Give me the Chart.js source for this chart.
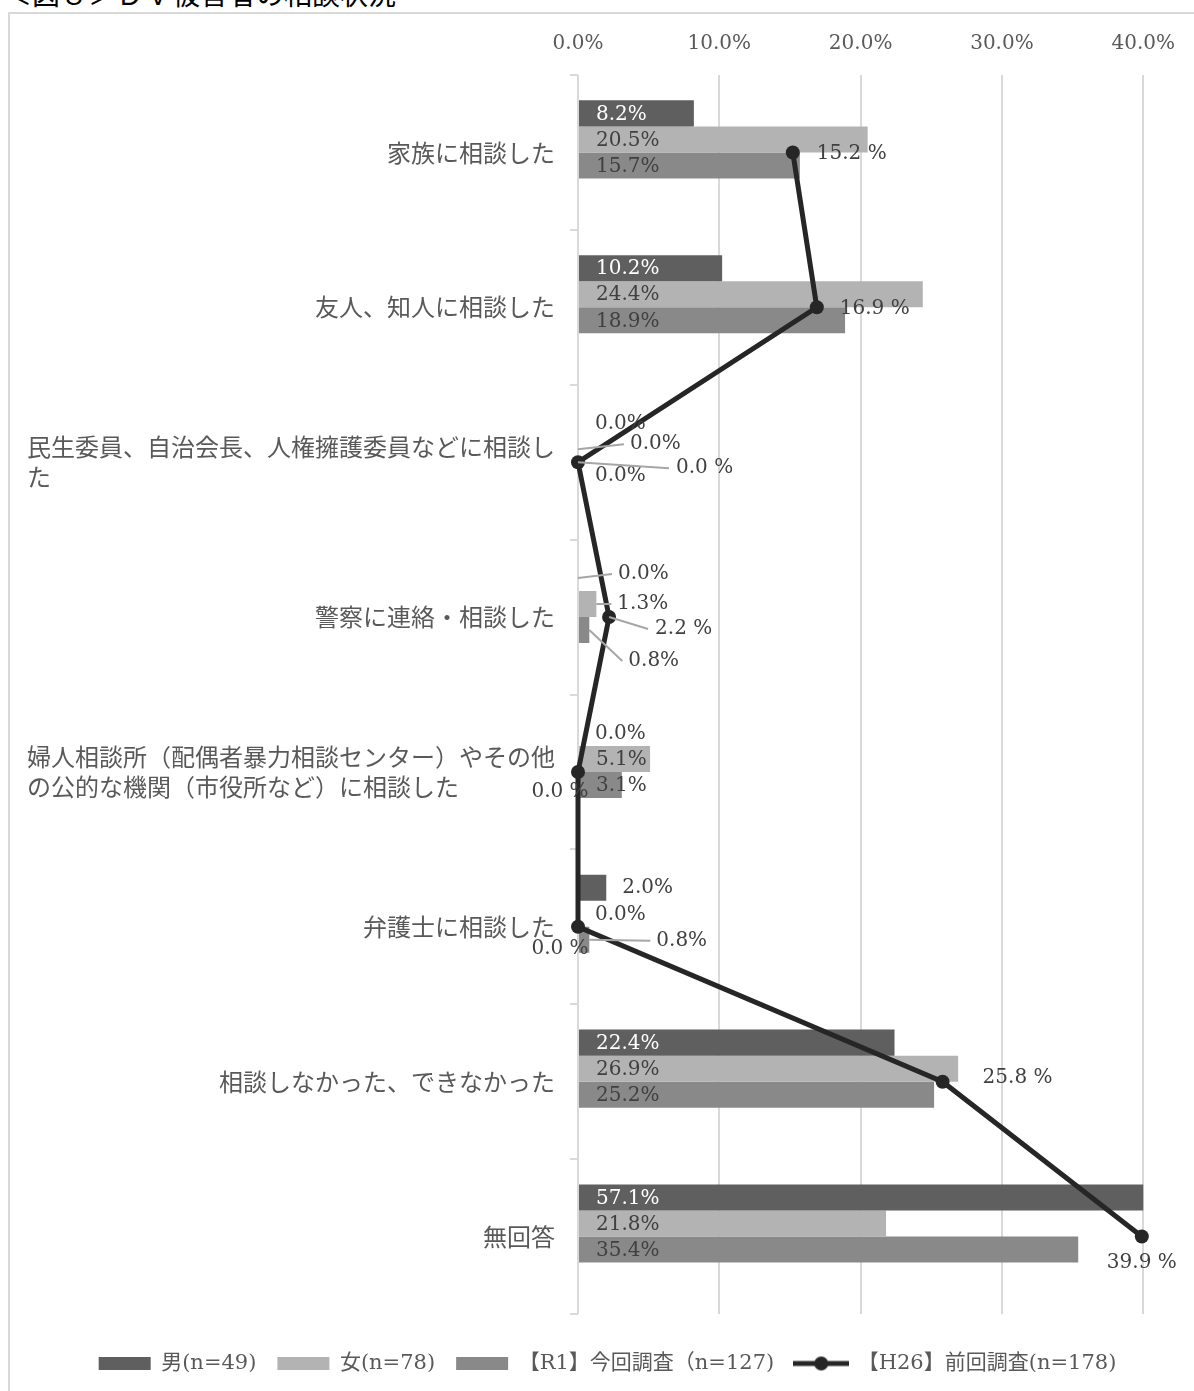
<!DOCTYPE html>
<html lang="ja">
<head>
<meta charset="utf-8">
<title>DV被害者の相談状況</title>
<script src="https://cdn.jsdelivr.net/npm/chart.js@4"></script>
<style>
  body { margin: 0; background: #fff; width: 1194px; height: 1391px; overflow: hidden; position: relative; }
  #title { position: absolute; left: 4px; top: -21px; font: 28px/28px "Noto Sans CJK JP"; color: #000; white-space: nowrap; }
  #frame { position: absolute; left: 8px; top: 12px; width: 1210px; height: 1420px; border: 2px solid #d9d9d9; }
  #box { position: absolute; left: 9px; top: 14px; width: 1185px; height: 1370px; }
</style>
</head>
<body>
<div id="title">＜図８＞ＤＶ被害者の相談状況</div>
<div id="frame"></div>
<div id="box"><canvas id="consultChart"></canvas></div>
<script>
const categories = [
    ['家族に相談した'],
    ['友人、知人に相談した'],
    ['民生委員、自治会長、人権擁護委員などに相談し', 'た'],
    ['警察に連絡・相談した'],
    ['婦人相談所（配偶者暴力相談センター）やその他', 'の公的な機関（市役所など）に相談した'],
    ['弁護士に相談した'],
    ['相談しなかった、できなかった'],
    ['無回答']
];
const male = [8.2, 10.2, 0.0, 0.0, 0.0, 2.0, 22.4, 57.1];
const female = [20.5, 24.4, 0.0, 1.3, 5.1, 0.0, 26.9, 21.8];
const r1Total = [15.7, 18.9, 0.0, 0.8, 3.1, 0.8, 25.2, 35.4];
const h26Total = [15.2, 16.9, 0.0, 2.2, 0.0, 0.0, 25.8, 39.9];
const seriesNames = ['男(n=49)', '女(n=78)', '【R1】今回調査（n=127)', '【H26】前回調査(n=178)'];
const xMin = 0, xMax = 40, xStep = 10;

const maleColor = '#5f5f5f';
const femaleColor = '#b3b3b3';
const totalColor = '#898989';
const lineColor = '#262626';
const gridColor = '#d9d9d9';
const numFont = '"DejaVu Serif", serif';
const jpFont = '"Noto Sans CJK JP", sans-serif';

// 値の小さい棒はラベルを棒の先から右にずらす（lead: 引き出し線あり）
const barLabelMoves = {
    '1-2': { dx: 52, dy: -5, lead: true },
    '0-3': { dx: 40, dy: -4, lead: true },
    '1-3': { dx: 21, dy: 0, lead: true },
    '2-3': { dx: 39, dy: 31, lead: true },
    '0-5': { dx: 16, dy: 0, lead: false },
    '2-5': { dx: 67, dy: 1, lead: true }
};
// 前回調査の折れ線ラベル位置（点からのずれ）
const lineLabelPos = [
    { dx: 24, dy: 1, align: 'left' },
    { dx: 23, dy: 1, align: 'left' },
    { dx: 98, dy: 6, align: 'left', lead: true },
    { dx: 46, dy: 12, align: 'left', lead: true },
    { dx: -18, dy: 20, align: 'center' },
    { dx: -18, dy: 22, align: 'center' },
    { dx: 40, dy: -4, align: 'left' },
    { dx: 0, dy: 26, align: 'center' }
];

// 凡例用：点つきの線
function lineMarker() {
    const c = document.createElement('canvas');
    c.width = 56; c.height = 16;
    const g = c.getContext('2d');
    g.strokeStyle = lineColor; g.lineWidth = 5;
    g.beginPath(); g.moveTo(0, 8); g.lineTo(56, 8); g.stroke();
    g.fillStyle = lineColor;
    g.beginPath(); g.arc(28, 8, 7, 0, Math.PI * 2); g.fill();
    return c;
}

const categoryLabels = {
    id: 'categoryLabels',
    afterDraw(chart) {
        const { ctx, scales: { x, y } } = chart;
        ctx.save();
        ctx.font = '24px ' + jpFont;
        ctx.fillStyle = '#595959';
        ctx.textBaseline = 'middle';
        ctx.textAlign = 'left';
        const right = x.left - 23;
        categories.forEach((lines, i) => {
            const cy = y.getPixelForValue(i);
            const w = Math.max(...lines.map(t => ctx.measureText(t).width));
            lines.forEach((t, k) => {
                ctx.fillText(t, right - w, cy + (k - (lines.length - 1) / 2) * 30);
            });
        });
        ctx.restore();
    }
};

const valueLabels = {
    id: 'valueLabels',
    afterDatasetsDraw(chart) {
        const ctx = chart.ctx;
        ctx.save();
        ctx.font = '20px ' + numFont;
        ctx.textBaseline = 'middle';
        [0, 1, 2].forEach(d => {
            const meta = chart.getDatasetMeta(d);
            const values = chart.data.datasets[d].data;
            meta.data.forEach((bar, i) => {
                const text = values[i].toFixed(1) + '%';
                const mv = barLabelMoves[d + '-' + i];
                ctx.textAlign = 'left';
                if (mv) {
                    const tx = bar.x + mv.dx, ty = bar.y + mv.dy;
                    if (mv.lead) {
                        ctx.strokeStyle = '#a6a6a6'; ctx.lineWidth = 2;
                        ctx.beginPath(); ctx.moveTo(bar.x, bar.y); ctx.lineTo(tx - 6, ty); ctx.stroke();
                    }
                    ctx.fillStyle = '#404040';
                    ctx.fillText(text, tx, ty);
                } else {
                    // 濃い棒の中に収まるときだけ白文字
                    const inside = bar.x - bar.base > 60;
                    ctx.fillStyle = d === 0 && inside ? '#ffffff' : '#404040';
                    ctx.fillText(text, bar.base + 17, bar.y + 1);
                }
            });
        });
        const lineMeta = chart.getDatasetMeta(4);
        lineMeta.data.forEach((pt, i) => {
            const p = lineLabelPos[i];
            const tx = pt.x + p.dx, ty = pt.y + p.dy;
            if (p.lead) {
                ctx.strokeStyle = '#a6a6a6'; ctx.lineWidth = 2;
                ctx.beginPath(); ctx.moveTo(pt.x, pt.y); ctx.lineTo(tx - 7, ty); ctx.stroke();
            }
            ctx.fillStyle = '#404040';
            ctx.textAlign = p.align;
            ctx.fillText(h26Total[i].toFixed(1) + ' %', tx, ty);
        });
        ctx.restore();
    }
};

new Chart(document.getElementById('consultChart'), {
    type: 'bar',
    data: {
        labels: categories.map(l => l.join('')),
        datasets: [
            { label: seriesNames[0], data: male, backgroundColor: maleColor, order: 1 },
            { label: seriesNames[1], data: female, backgroundColor: femaleColor, order: 1 },
            { label: seriesNames[2], data: r1Total, backgroundColor: totalColor, order: 1 },
            // 折れ線の分の空き枠
            { label: '', data: categories.map(() => null), backgroundColor: 'transparent', order: 1 },
            {
                type: 'line', label: seriesNames[3], data: h26Total, order: 0,
                borderColor: lineColor, borderWidth: 5, clip: false,
                pointRadius: 7, pointBackgroundColor: lineColor, pointBorderWidth: 0
            }
        ]
    },
    options: {
        indexAxis: 'y',
        responsive: true,
        maintainAspectRatio: false,
        animation: false,
        categoryPercentage: 0.673,
        barPercentage: 1.0,
        layout: { padding: { left: 60, right: 48, top: 0, bottom: 0 } },
        scales: {
            x: {
                position: 'top',
                min: xMin, max: xMax,
                afterFit: s => { s.height = 61; },
                ticks: {
                    stepSize: xStep,
                    padding: 19,
                    color: '#595959',
                    font: { family: numFont, size: 20 },
                    callback: v => v.toFixed(1) + '%'
                },
                grid: { color: gridColor, lineWidth: 2, drawTicks: false },
                border: { display: false }
            },
            y: {
                afterFit: s => { s.width = 509; },
                ticks: { display: false },
                grid: { offset: true, drawOnChartArea: false, color: gridColor, lineWidth: 2, tickLength: 8 },
                border: { display: false }
            }
        },
        plugins: {
            tooltip: { enabled: false },
            legend: {
                position: 'bottom',
                // 凡例を少し下げるための空タイトル
                title: { display: true, text: ' ', font: { size: 10, lineHeight: 1.2 }, padding: { top: 3, bottom: 3 } },
                labels: {
                    usePointStyle: true,
                    pointStyleWidth: 52,
                    boxHeight: 13,
                    padding: 21,
                    color: '#595959',
                    font: { family: '"DejaVu Serif", "Noto Sans CJK JP"', size: 21 },
                    filter: item => item.text !== '',
                    sort: (a, b) => a.datasetIndex - b.datasetIndex,
                    generateLabels: chart => {
                        const items = Chart.defaults.plugins.legend.labels.generateLabels(chart);
                        items.forEach(it => {
                            if (it.datasetIndex === 4) {
                                it.pointStyle = lineMarker();
                            } else {
                                it.pointStyle = 'rect';
                                it.lineWidth = 0;
                            }
                        });
                        return items;
                    }
                }
            }
        }
    },
    plugins: [categoryLabels, valueLabels]
});
</script>
</body>
</html>
